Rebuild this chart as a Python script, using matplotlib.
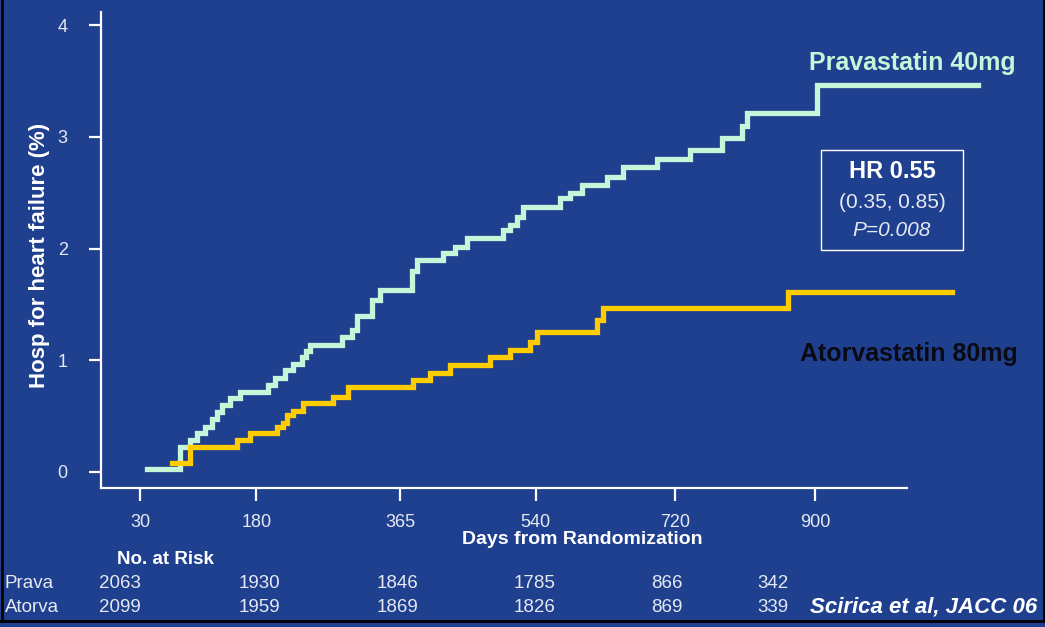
import matplotlib
matplotlib.use("Agg")
import matplotlib.pyplot as plt
from matplotlib.patches import Rectangle
from matplotlib.lines import Line2D

plt.rcParams['font.family'] = ['Liberation Sans', 'DejaVu Sans']

# ---- data ----
prava_days = [39, 82, 94, 103, 114, 123, 129, 136, 146, 159, 195, 204, 217, 227, 239, 244, 249,
              290, 303, 310, 329, 339, 380, 387, 420, 436, 451, 498, 507, 516, 524, 571, 584,
              600, 632, 652, 696, 739, 780, 806, 812, 902, 1110]
prava_vals = [0.03, 0.22, 0.29, 0.35, 0.40, 0.47, 0.54, 0.60, 0.66, 0.72, 0.78, 0.84, 0.91, 0.97,
              1.03, 1.08, 1.14, 1.21, 1.27, 1.40, 1.54, 1.63, 1.80, 1.90, 1.96, 2.01, 2.09, 2.17,
              2.21, 2.28, 2.37, 2.45, 2.50, 2.57, 2.64, 2.73, 2.80, 2.88, 2.99, 3.10, 3.21, 3.46, 3.46]

atorva_days = [71, 94, 155, 172, 207, 214, 219, 227, 240, 279, 298, 382, 404, 430, 481, 507, 533,
               542, 619, 627, 865, 1076]
atorva_vals = [0.08, 0.22, 0.29, 0.35, 0.40, 0.44, 0.51, 0.55, 0.62, 0.67, 0.76, 0.82, 0.89, 0.96,
               1.03, 1.09, 1.16, 1.25, 1.36, 1.47, 1.61, 1.61]

x_ticks = [30, 180, 365, 540, 720, 900]
y_ticks = [0, 1, 2, 3, 4]
risk_groups = ["Prava", "Atorva"]
risk_prava = [2063, 1930, 1846, 1785, 866, 342]
risk_atorva = [2099, 1959, 1869, 1826, 869, 339]

# ---- style ----
BG = "#1f3f8f"
GREEN = "#c6f5da"
YELLOW = "#ffcc00"
TXT = "#e6e9f2"

W, H = 1045, 627
fig = plt.figure(figsize=(W / 100, H / 100), dpi=100, facecolor=BG)

def fx(px):
    return px / W

def fy(py):
    return 1 - py / H

ax_left, ax_right, ax_top, ax_bot = 101, 1000, 12, 488
ax = fig.add_axes([fx(ax_left), fy(ax_bot), (ax_right - ax_left) / W, (ax_bot - ax_top) / H])
ax.set_facecolor(BG)

slope = 0.776  # px per day
x0 = 116.7
ax.set_xlim((ax_left - x0) / slope, (ax_right - x0) / slope)
ypx = 111.75
ax.set_ylim((472 - ax_bot) / ypx, (472 - ax_top) / ypx)

ax.step(prava_days, prava_vals, where='post', color=GREEN, lw=3.8, solid_joinstyle='miter')
ax.step(atorva_days, atorva_vals, where='post', color=YELLOW, lw=3.8, solid_joinstyle='miter')

for s in ['top', 'right']:
    ax.spines[s].set_visible(False)
for s in ['left', 'bottom']:
    ax.spines[s].set_color('white')
    ax.spines[s].set_linewidth(1.6)
ax.spines['bottom'].set_bounds((ax_left - x0) / slope, (907 - x0) / slope)

ax.set_xticks(x_ticks)
ax.set_xticklabels([str(v) for v in x_ticks])
ax.set_yticks(y_ticks)
ax.set_yticklabels([str(v) for v in y_ticks])
ax.tick_params(axis='both', colors='white', labelcolor=TXT, width=1.6, labelsize=13)
ax.tick_params(axis='x', length=9, pad=10)
ax.tick_params(axis='y', length=9, pad=15)

fig.text(fx(40), fy(255), "Hosp for heart failure (%)", rotation=90, ha='center', va='center',
         color='white', fontsize=16, fontweight='bold')
fig.text(fx(582), fy(539), "Days from Randomization", ha='center', va='center',
         color='white', fontsize=14, fontweight='bold')

# series labels
fig.text(fx(912), fy(63), "Pravastatin 40mg", ha='center', va='center', color=GREEN,
         fontsize=18, fontweight='bold')
fig.text(fx(909), fy(354), "Atorvastatin 80mg", ha='center', va='center', color='#0a0a14',
         fontsize=18, fontweight='bold')

# HR box
fig.patches.append(Rectangle((fx(821), fy(250)), (963 - 821) / W, (250 - 150) / H,
                             transform=fig.transFigure, fill=False, edgecolor='white', lw=1.0))
fig.text(fx(892), fy(172), "HR 0.55", ha='center', va='center', color='white',
         fontsize=17, fontweight='bold')
fig.text(fx(892), fy(202), "(0.35, 0.85)", ha='center', va='center', color=TXT, fontsize=15)
fig.text(fx(892), fy(230), "P=0.008", ha='center', va='center', color=TXT, fontsize=15,
         fontstyle='italic')

# number at risk
fig.text(fx(117), fy(559), "No. at Risk", ha='left', va='center', color='white',
         fontsize=13.5, fontweight='bold')
risk_x_px = [120, 259, 398, 535, 667, 773]
row_y = [583, 607]
for grp, vals, yy in zip(risk_groups, [risk_prava, risk_atorva], row_y):
    fig.text(fx(5), fy(yy), grp, ha='left', va='center', color=TXT, fontsize=13.5)
    for xp, v in zip(risk_x_px, vals):
        fig.text(fx(xp), fy(yy), str(v), ha='center', va='center', color=TXT, fontsize=13.5)

fig.text(fx(1037), fy(607), "Scirica et al, JACC 06", ha='right', va='center', color='white',
         fontsize=16, fontweight='bold', fontstyle='italic')

# dark frame
for xs, ys in [([1.5, 1.5], [0, 621]), ([0, W], [621, 621]), ([1043.5, 1043.5], [0, 621])]:
    fig.lines.append(Line2D([fx(x) for x in xs], [fy(y) for y in ys], transform=fig.transFigure,
                            color='black', lw=2))

fig.savefig("out.png", dpi=100, facecolor=BG)
